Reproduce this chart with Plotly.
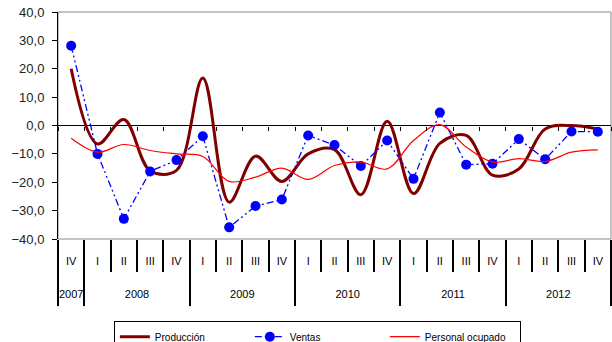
"""Tasas de variación trimestral: producción, ventas y personal ocupado."""
import plotly.graph_objects as go

QUARTERS = ['IV'] + ['I', 'II', 'III', 'IV'] * 5
YEARS = ['2007', '2008', '2009', '2010', '2011', '2012']
QUARTERS_PER_YEAR = [1, 4, 4, 4, 4, 4]

PRODUCCION = [20.0, -6.5, 2.1, -16.0, -15.8, 16.7, -27.0, -10.8, -19.7, -10.0, -8.5,
              -24.4, 1.5, -24.0, -6.3, -3.5, -17.5, -15.3, -1.2, 0.0, -1.2]
VENTAS = [28.1, -10.0, -32.9, -16.2, -12.2, -3.8, -35.9, -28.4, -26.1, -3.5, -6.9,
          -14.3, -5.3, -18.8, 4.6, -13.8, -13.5, -4.8, -11.9, -2.1, -2.2]
PERSONAL = [-4.5, -9.4, -6.7, -8.8, -10.0, -10.9, -19.7, -18.2, -15.0, -19.0, -14.1,
            -12.9, -15.3, -5.3, 0.3, -7.6, -12.9, -11.7, -12.7, -9.4, -8.6]

Y_TICKS = [-40, -30, -20, -10, 0, 10, 20, 30, 40]

FONT = 'Liberation Sans, Arial, sans-serif'

# category positions and boundaries
idx = list(range(len(QUARTERS)))
x_range = [-0.5, len(QUARTERS) - 0.5]
bounds = [i - 0.5 for i in range(len(QUARTERS) + 1)]
year_bounds = [-0.5]
year_mid = []
for n in QUARTERS_PER_YEAR:
    start = year_bounds[-1]
    year_bounds.append(start + n)
    year_mid.append(start + n / 2)

fig = go.Figure()

fig.add_trace(go.Scatter(
    x=idx, y=PRODUCCION, name='Producción', mode='lines',
    line={'color': '#800000', 'width': 3, 'shape': 'spline', 'smoothing': 1.0},
))
fig.add_trace(go.Scatter(
    x=idx, y=VENTAS, name='Ventas', mode='lines+markers',
    line={'color': '#0000FF', 'width': 1.3, 'dash': '7px,3px,2px,3px,2px,3px'},
    marker={'color': '#0000FF', 'size': 10},
))
fig.add_trace(go.Scatter(
    x=idx, y=PERSONAL, name='Personal ocupado', mode='lines',
    line={'color': '#FF0000', 'width': 1.2, 'shape': 'spline', 'smoothing': 1.0},
))
# empty traces so the helper axes (zero-line ticks, year row) get drawn
for ax in ('x2', 'x3'):
    fig.add_trace(go.Scatter(x=[], y=[], xaxis=ax, showlegend=False, hoverinfo='skip'))

# figure is a bit taller than the window: the legend box runs off the bottom edge
fig.update_layout(
    width=612, height=356,
    margin={'l': 58, 'r': 1, 't': 12, 'b': 117},
    paper_bgcolor='white', plot_bgcolor='white',
    separators=',.',
    font={'family': FONT, 'size': 11, 'color': '#000000'},
    showlegend=True,
    legend={
        'orientation': 'h', 'x': 0.101, 'xanchor': 'left', 'y': -0.362, 'yanchor': 'top',
        'bordercolor': '#000000', 'borderwidth': 1, 'font': {'size': 10},
        'entrywidth': 90, 'entrywidthmode': 'pixels', 'traceorder': 'normal',
    },
    # quarters
    xaxis={
        'range': x_range, 'tickvals': idx, 'ticktext': QUARTERS, 'ticks': '',
        'ticklabelstandoff': 14, 'tickfont': {'size': 11},
        'showgrid': False, 'zeroline': False, 'showline': False, 'automargin': False,
        'minor': {'tickvals': bounds, 'ticks': 'outside', 'ticklen': 32,
                  'tickcolor': '#000000', 'tickwidth': 1.5, 'showgrid': False},
    },
    # small ticks on the zero line
    xaxis2={
        'overlaying': 'x', 'anchor': 'free', 'position': 0.5, 'range': x_range,
        'tickvals': bounds, 'ticks': 'outside', 'ticklen': 4, 'tickcolor': '#000000',
        'showticklabels': False, 'showgrid': False, 'zeroline': False, 'showline': False,
    },
    # years
    xaxis3={
        'overlaying': 'x', 'anchor': 'free', 'position': 0, 'range': x_range,
        'tickvals': year_mid, 'ticktext': YEARS, 'ticks': '', 'ticklabelstandoff': 47,
        'tickfont': {'size': 11}, 'automargin': False,
        'showgrid': False, 'zeroline': False, 'showline': False,
        'minor': {'tickvals': year_bounds, 'ticks': 'outside', 'ticklen': 66,
                  'tickcolor': '#000000', 'tickwidth': 1.5, 'showgrid': False},
    },
    yaxis={
        'range': [-40, 40], 'tickvals': Y_TICKS, 'tickformat': '.1f',
        'showgrid': False, 'zeroline': True, 'zerolinecolor': '#000000', 'zerolinewidth': 1,
        'showline': True, 'linecolor': '#000000', 'linewidth': 1,
        'ticks': 'outside', 'ticklen': 5, 'tickcolor': '#000000', 'automargin': False,
        'ticklabelstandoff': 5, 'tickfont': {'size': 13, 'color': '#222222'},
    },
    shapes=[{
        'type': 'rect', 'xref': 'paper', 'yref': 'paper', 'x0': 0, 'x1': 1, 'y0': 0, 'y1': 1,
        'line': {'color': '#888888', 'width': 1}, 'layer': 'below',
    }],
)

# no page margin around the figure, no scrollbars
fig.write_html(
    "out.html",
    config={'displayModeBar': False},
    post_script="document.body.style.margin = '0px'; document.body.style.overflow = 'hidden';",
)
